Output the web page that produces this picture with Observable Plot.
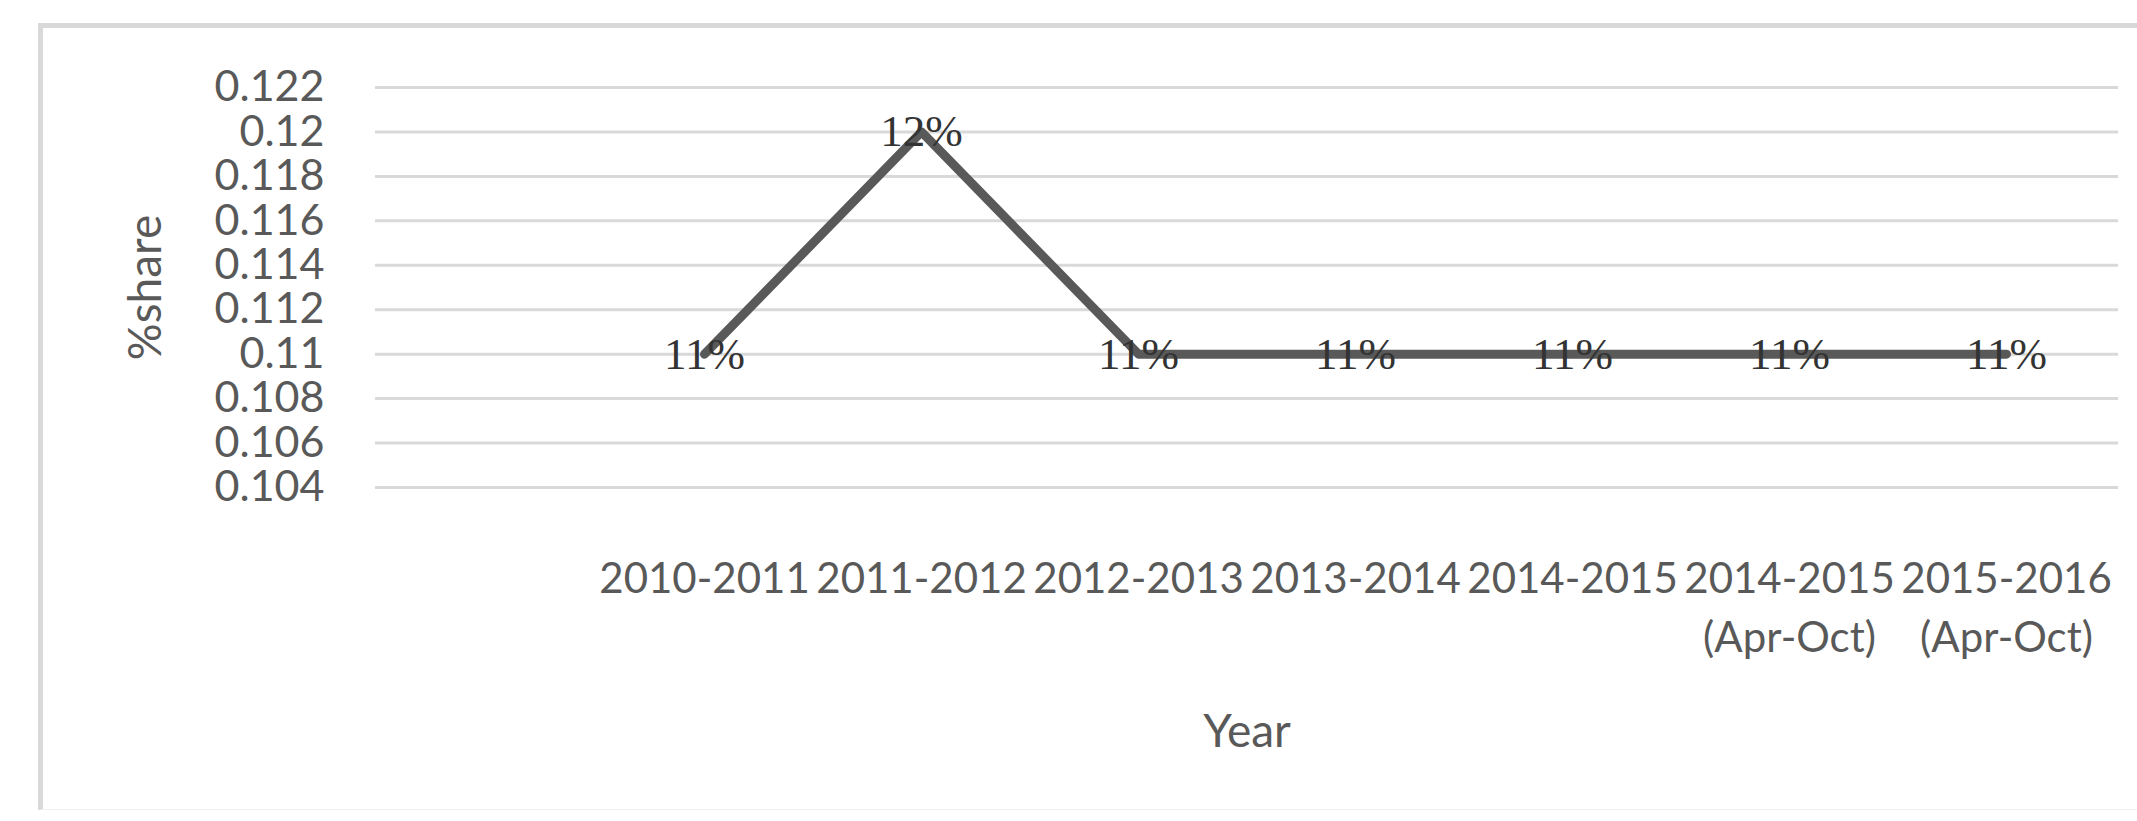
<!DOCTYPE html>
<html><head><meta charset="utf-8">
<script src="https://cdn.jsdelivr.net/npm/d3@7"></script>
<script src="https://cdn.jsdelivr.net/npm/@observablehq/plot@0.6"></script>
<style>
html,body{margin:0;padding:0;background:#fff;}
#wrap{position:relative;width:2137px;height:821px;overflow:hidden;}
#frame{position:absolute;left:38px;top:23px;right:-20px;bottom:11px;border-left:5px solid #d9d9d9;border-top:5px solid #d9d9d9;border-bottom:1px solid #f0f0f0;}
#chart{position:absolute;left:0;top:0;}
</style></head><body>
<div id="wrap"><div id="frame"></div><div id="chart"></div></div>
<script>
const years = ["2010-2011","2011-2012","2012-2013","2013-2014","2014-2015","2014-2015\n(Apr-Oct)","2015-2016\n(Apr-Oct)"];
const shares = [0.11,0.12,0.11,0.11,0.11,0.11,0.11];
const yTicks = [0.104,0.106,0.108,0.11,0.112,0.114,0.116,0.118,0.12,0.122];
const xTitle = "Year";
const yTitle = "%share";

const data = years.map((year, i) => ({year, share: shares[i]}));

const W = 2137, H = 821;
const mL = 375, mR = 19, mT = 87, mB = 334;
const band = (W - mL - mR) / (years.length + 1);

const chart = Plot.plot({
  width: W, height: H,
  marginLeft: mL, marginRight: mR, marginTop: mT, marginBottom: mB,
  style: {background: "transparent", color: "#595959", fontFamily: "Lato, sans-serif"},
  x: {type: "point", domain: years, padding: 0.5, insetLeft: band},
  y: {domain: [0.104, 0.122]},
  marks: [
    Plot.ruleY(yTicks, {stroke: "#d9d9d9", strokeWidth: 3}),
    Plot.axisY({ticks: yTicks, tickSize: 0, tickPadding: 51, fontSize: 43, tickFormat: d => String(d), label: null}),
    Plot.axisX({tickSize: 0, tickPadding: 64, fontSize: 42, lineHeight: 1.4, label: null}),
    Plot.line(data, {x: "year", y: "share", stroke: "#595959", strokeWidth: 9, strokeLinejoin: "round"}),
    Plot.text(data, {x: "year", y: "share", text: d => d3.format(".0%")(d.share), fontSize: 45, fontFamily: "Liberation Serif", fill: "#333333", textAnchor: "middle", lineAnchor: "middle"}),
    Plot.text([xTitle], {frameAnchor: "bottom", dy: 245, lineAnchor: "middle", fontSize: 46, fill: "#595959"}),
    Plot.text([yTitle], {frameAnchor: "left", dx: -229, rotate: -90, lineAnchor: "middle", textAnchor: "middle", fontSize: 46, fill: "#595959"})
  ]
});
document.getElementById("chart").appendChild(chart);
</script>
</body></html>
